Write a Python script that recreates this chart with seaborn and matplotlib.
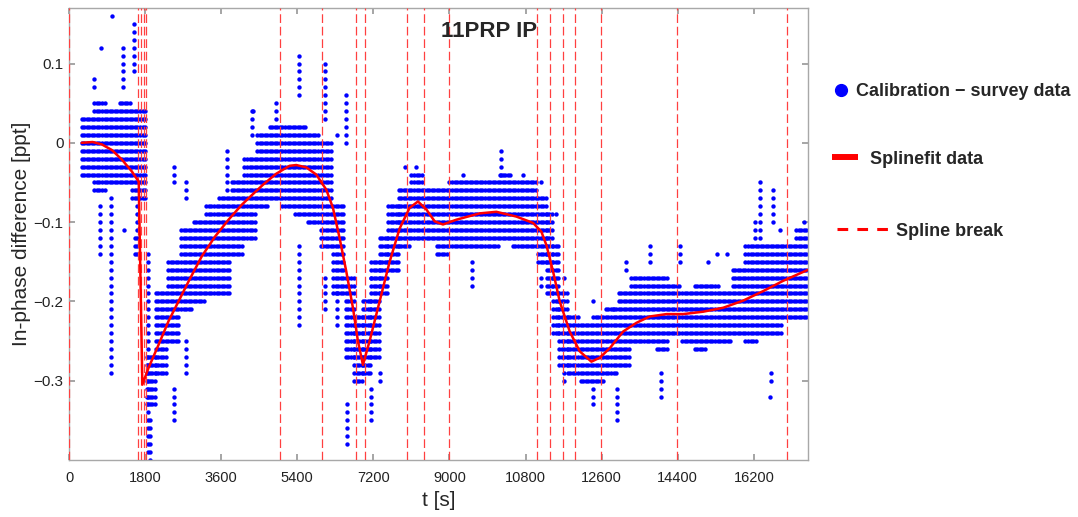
import numpy as np
import pandas as pd
import matplotlib
matplotlib.use("Agg")
import matplotlib.pyplot as plt
import seaborn as sns
from matplotlib.lines import Line2D

# ---------------- data ----------------
# dense bands of the quantised calibration - survey data (ppt, 0.01 steps)
blk_t0 = [300, 600, 900, 1200, 1500, 1850, 2050, 2350, 2650, 2950, 3250, 3550, 3850, 4150,
          4450, 4750, 5050, 5350, 5650, 5950, 6250, 6550, 6750, 6950, 7150, 7350, 7550, 7800,
          8100, 8400, 8700, 9000, 9300, 9600, 9900, 10200, 10500, 10800, 11100, 11300, 11450,
          11600, 11800, 12100, 12400, 12700, 13000, 13300, 13600, 13900, 14200, 14500, 14800,
          15100, 15400, 15700, 16000, 16300, 16600, 16900, 17200]
blk_t1 = blk_t0[1:] + [17480]
blk_top = [0.03, 0.05, 0.04, 0.05, 0.04, -0.27, -0.19, -0.15, -0.11, -0.10, -0.08, -0.07, -0.05, -0.02,
           0.01, 0.02, 0.02, 0.02, 0.01, 0.00, -0.08, -0.17, -0.22, -0.20, -0.15, -0.12, -0.08, -0.06,
           -0.04, -0.06, -0.06, -0.05, -0.05, -0.05, -0.05, -0.04, -0.05, -0.05, -0.07, -0.09, -0.13,
           -0.19, -0.22, -0.23, -0.22, -0.21, -0.19, -0.17, -0.17, -0.17, -0.18, -0.19, -0.18,
           -0.18, -0.19, -0.16, -0.13, -0.13, -0.13, -0.13, -0.11]
blk_bot = [-0.04, -0.06, -0.05, -0.05, -0.07, -0.33, -0.29, -0.25, -0.21, -0.20, -0.19, -0.19, -0.14, -0.12,
           -0.08, -0.07, -0.08, -0.09, -0.10, -0.13, -0.19, -0.27, -0.30, -0.29, -0.27, -0.19, -0.16, -0.13,
           -0.12, -0.12, -0.14, -0.13, -0.13, -0.13, -0.13, -0.12, -0.13, -0.13, -0.15, -0.19, -0.24,
           -0.28, -0.29, -0.30, -0.30, -0.29, -0.28, -0.25, -0.25, -0.26, -0.24, -0.25, -0.26,
           -0.25, -0.25, -0.24, -0.25, -0.24, -0.24, -0.22, -0.22]

# sparse vertical runs of isolated points (t, top, bottom)
sp_t = [580, 750, 740, 1010, 996, 1288, 1290, 1548, 1550, 1610, 1864, 1919, 2495, 2495, 2763, 2763,
        3734, 4325, 4350, 4900, 5450, 5450, 6045, 6045, 6345, 6345, 6558, 6582, 7150, 7150, 7360,
        7940, 8215, 9320, 9540, 10226, 10740, 11173, 11173, 11512, 11700, 11700, 12396, 12396,
        12870, 12965, 13186, 13754, 14014, 14448, 15118, 15331, 15553, 16223, 16342, 16578,
        16600, 16657, 16815, 17380]
sp_top = [0.08, 0.12, -0.08, 0.16, -0.07, 0.12, -0.11, 0.15, -0.12, -0.08, -0.14, -0.35, -0.03, -0.31,
          -0.05, -0.25, -0.01, 0.04, 0.04, 0.05, 0.11, -0.13, 0.10, -0.17, 0.01, -0.19, 0.06, -0.33,
          -0.17, -0.31, -0.29, -0.03, -0.03, -0.04, -0.15, -0.01, -0.04, -0.05, -0.17, -0.09, -0.17,
          -0.29, -0.20, -0.31, -0.21, -0.31, -0.15, -0.13, -0.29, -0.13, -0.15, -0.14, -0.14,
          -0.10, -0.05, -0.32, -0.29, -0.06, -0.11, -0.10]
sp_bot = [0.07, 0.12, -0.14, 0.16, -0.29, 0.07, -0.11, 0.09, -0.14, -0.14, -0.39, -0.40, -0.05, -0.35,
          -0.07, -0.29, -0.06, 0.01, 0.04, 0.03, 0.06, -0.23, 0.03, -0.21, 0.01, -0.23, 0.00, -0.38,
          -0.17, -0.35, -0.30, -0.03, -0.03, -0.04, -0.18, -0.04, -0.04, -0.05, -0.18, -0.09, -0.17,
          -0.30, -0.20, -0.33, -0.21, -0.35, -0.16, -0.15, -0.32, -0.15, -0.15, -0.14, -0.14,
          -0.12, -0.12, -0.32, -0.30, -0.10, -0.11, -0.10]

# spline fit
fit_t = [300, 560, 775, 1012, 1248, 1485, 1650, 1735, 1880, 2116, 2353, 2590, 2826, 3142, 3458,
         3773, 4089, 4365, 4586, 4901, 5217, 5375, 5611, 5848, 6085, 6243, 6400, 6558, 6716, 6834,
         6953, 7110, 7347, 7584, 7821, 8057, 8254, 8452, 8649, 8846, 9161, 9714, 10108, 10581,
         10976, 11173, 11292, 11449, 11607, 11844, 12081, 12357, 12554, 12791, 13107, 13422,
         13738, 14132, 14527, 15000, 15474, 15947, 16420, 16894, 17486]
fit_y = [0.000, 0.001, -0.002, -0.009, -0.021, -0.036, -0.049, -0.305, -0.284, -0.255, -0.225,
         -0.200, -0.175, -0.143, -0.118, -0.097, -0.078, -0.064, -0.053, -0.039, -0.029, -0.028,
         -0.031, -0.040, -0.059, -0.082, -0.120, -0.162, -0.208, -0.250, -0.280, -0.250, -0.200,
         -0.150, -0.108, -0.082, -0.074, -0.084, -0.099, -0.103, -0.097, -0.089, -0.087, -0.093,
         -0.101, -0.112, -0.129, -0.162, -0.200, -0.238, -0.263, -0.276, -0.271, -0.259, -0.238,
         -0.227, -0.219, -0.216, -0.216, -0.213, -0.208, -0.199, -0.187, -0.174, -0.160]

# spline break positions
breaks = [0, 1643, 1706, 1768, 1832, 4990, 5990, 6795, 6992, 7994, 8389, 8982, 11080,
          11384, 11686, 11980, 12590, 14390, 16978]

xticks = [0, 1800, 3600, 5400, 7200, 9000, 10800, 12600, 14400, 16200]
yticks = [-0.3, -0.2, -0.1, 0, 0.1]
ytick_labels = ["\u22120.3", "\u22120.2", "\u22120.1", "0", "0.1"]
legend_labels = ["Calibration \u2212 survey data", "Splinefit data", "Spline break"]

# ---------------- build the point table ----------------
pts_t, pts_y = [], []
for t0, t1, top, bot in zip(blk_t0, blk_t1, blk_top, blk_bot):
    levels = np.arange(round(bot * 100), round(top * 100) + 1) / 100.0
    for t in np.arange(t0, t1, 60):
        for y in levels:
            pts_t.append(t)
            pts_y.append(y)
for t, top, bot in zip(sp_t, sp_top, sp_bot):
    levels = np.arange(round(bot * 100), round(top * 100) + 1) / 100.0
    for y in levels:
        pts_t.append(t)
        pts_y.append(y)
scatter_df = pd.DataFrame({"t": pts_t, "y": pts_y})
fit_df = pd.DataFrame({"t": fit_t, "y": fit_y})

# ---------------- plot ----------------
sns.set_theme(style="white")
plt.rcParams["font.family"] = ["Liberation Sans", "DejaVu Sans"]

W, H = 1078, 517
fig = plt.figure(figsize=(W / 100, H / 100), dpi=100)
ax = fig.add_axes([69 / W, 1 - 460 / H, (808 - 69) / W, (460 - 8) / H])

sns.scatterplot(data=scatter_df, x="t", y="y", color="#0000ff", s=10, linewidth=0,
                ax=ax, legend=False, zorder=2)
for b in breaks:
    ax.axvline(b, color="#ff4040", lw=0.9, dashes=(7, 3), zorder=3)
sns.lineplot(data=fit_df, x="t", y="y", color="#ff0000", lw=1.8, estimator=None,
             sort=False, ax=ax, zorder=4)

ax.set_xlim(0, 17480)
ax.set_ylim(-0.40, 0.17)
ax.set_xticks(xticks)
ax.set_xticklabels([str(v) for v in xticks], fontsize=10.5)
ax.set_yticks(yticks)
ax.set_yticklabels(ytick_labels, fontsize=11)
ax.tick_params(direction="in", length=4, color="#9a9a9a", top=True, right=True,
               bottom=True, left=True, labelcolor="#222222")
ax.tick_params(axis="x", pad=8)
ax.tick_params(axis="y", pad=4)
for s in ax.spines.values():
    s.set_color("#a8a8a8")
    s.set_linewidth(1.0)

ax.set_xlabel("t [s]", fontsize=15)
ax.set_ylabel("In-phase difference [ppt]", fontsize=15)
ax.xaxis.set_label_coords(0.5, -(500 - 460) / 452)
ax.xaxis.label.set_va("center")
ax.yaxis.set_label_coords(-(69 - 22) / 739, 0.5)
ax.yaxis.label.set_va("center")
ax.text(0.568, 0.949, "11PRP IP", transform=ax.transAxes, ha="center", va="center",
        fontsize=16, fontweight="bold")

# legend: three entries, each placed like the reference
fs = 13
em = fs * 100 / 72
leg_handles = [
    Line2D([], [], marker="o", color="#0000ff", linestyle="none", markersize=8.5),
    Line2D([], [], color="#ff0000", lw=4.3, solid_capstyle="butt"),
    Line2D([], [], color="#ff0000", lw=2.2, dashes=(3.5, 3), dash_capstyle="butt"),
]
# (handle left px, handle right px, text left px, row centre y px)
leg_geom = [(829, 853, 856, 92), (832, 858, 870, 159), (837, 888, 896, 231)]
for h, lab, (hl, hr, tl, yc) in zip(leg_handles, legend_labels, leg_geom):
    fig.legend([h], [lab], loc="center left", bbox_to_anchor=(hl / W, 1 - yc / H),
               frameon=False, prop={"weight": "bold", "size": fs},
               handlelength=(hr - hl) / em, handletextpad=(tl - hr) / em,
               borderpad=0, borderaxespad=0)

fig.savefig("out.png", dpi=100)
